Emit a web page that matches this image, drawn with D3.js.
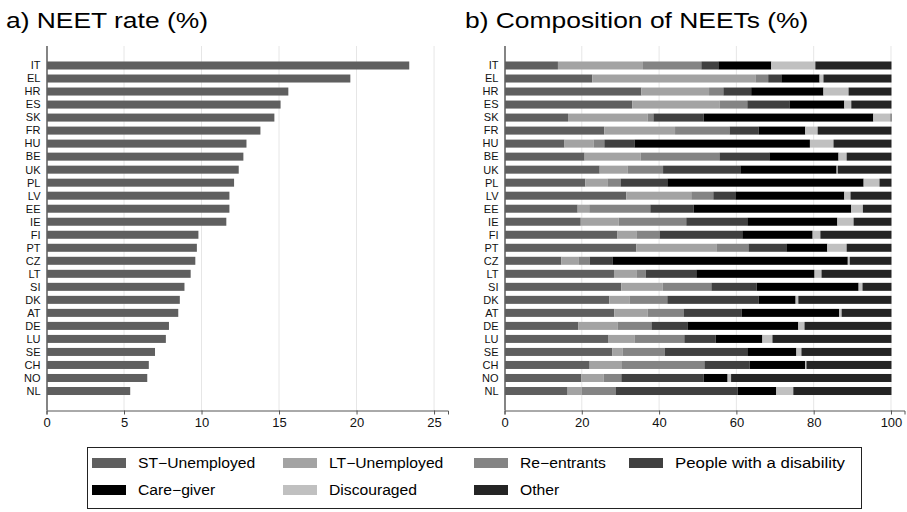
<!DOCTYPE html>
<html>
<head>
<meta charset="utf-8">
<script src="https://cdn.jsdelivr.net/npm/d3@7"></script>
<style>
  body { margin: 0; background: #fff; }
  svg { font-family: "Liberation Sans", Arial, Helvetica, sans-serif; }
</style>
</head>
<body>
<script>
// Countries, ordered as in the chart (highest NEET rate first)
const countries = ["IT", "EL", "HR", "ES", "SK", "FR", "HU", "BE", "UK", "PL", "LV", "EE", "IE",
    "FI", "PT", "CZ", "LT", "SI", "DK", "AT", "DE", "LU", "SE", "CH", "NO", "NL"];

// a) NEET rate (%)
const neetRate = [23.4, 19.6, 15.6, 15.1, 14.7, 13.8, 12.9, 12.7, 12.4, 12.1, 11.8, 11.8, 11.6,
    9.8, 9.7, 9.6, 9.3, 8.9, 8.6, 8.5, 7.9, 7.7, 7.0, 6.6, 6.5, 5.4];

// b) Composition of NEETs (%), one array per category
const stUnemployed = [13.7, 22.6, 35.3, 32.9, 16.3, 25.7, 15.4, 20.6, 24.5, 20.8, 31.4, 18.8, 19.6,
    29.1, 34.0, 14.6, 28.2, 30.1, 27.0, 28.3, 19.0, 26.8, 27.8, 21.9, 19.7, 16.2];
const ltUnemployed = [22.0, 42.2, 17.5, 22.6, 20.6, 18.3, 7.5, 14.5, 7.2, 5.7, 16.8, 3.0, 9.8,
    4.9, 20.7, 4.4, 5.8, 10.7, 5.2, 8.6, 10.1, 6.7, 2.6, 8.2, 5.8, 3.6];
const reEntrants = [15.1, 3.3, 3.7, 7.2, 1.5, 14.1, 2.8, 20.4, 9.2, 3.4, 5.7, 15.8, 17.5,
    6.0, 8.3, 2.9, 2.4, 12.6, 9.8, 9.3, 8.8, 12.9, 10.9, 21.5, 4.6, 8.8];
const disability = [4.4, 3.4, 7.2, 10.9, 13.0, 7.5, 7.8, 12.9, 20.0, 12.1, 5.7, 11.2, 15.8,
    21.4, 9.8, 5.9, 13.1, 11.7, 23.6, 15.0, 9.3, 8.1, 21.4, 11.7, 21.3, 31.6];
const careGiver = [13.7, 9.9, 18.7, 14.2, 43.9, 12.1, 45.4, 17.9, 24.9, 50.8, 28.2, 40.8, 23.3,
    18.2, 10.6, 60.9, 30.6, 26.4, 9.6, 25.3, 28.7, 12.1, 12.7, 14.4, 6.2, 10.0];
const discouraged = [11.4, 1.0, 6.5, 1.8, 4.5, 3.2, 6.1, 2.1, 0.3, 4.1, 1.6, 3.0, 4.2,
    2.0, 5.0, 0.5, 1.8, 1.0, 0.7, 0.6, 1.6, 2.6, 1.3, 0.3, 0.9, 4.4];
const other = [19.7, 17.6, 11.1, 10.4, 0.2, 19.1, 15.0, 11.6, 13.9, 3.1, 10.6, 7.4, 9.8,
    18.4, 11.6, 10.8, 18.1, 7.5, 24.1, 12.9, 22.5, 30.8, 23.3, 22.0, 41.5, 25.4];

const categories = ["ST\u2212Unemployed", "LT\u2212Unemployed", "Re\u2212entrants",
    "People with a disability", "Care\u2212giver", "Discouraged", "Other"];
const series = [stUnemployed, ltUnemployed, reEntrants, disability, careGiver, discouraged, other];
const colors = ["#5f5f5f", "#a3a3a3", "#848484", "#404040", "#000000", "#c0c0c0", "#242424"];

const rateTicks = [0, 5, 10, 15, 20, 25];
const shareTicks = [0, 20, 40, 60, 80, 100];

const W = 907, H = 512;
const plotTop = 46, plotBottom = 410.5;

const svg = d3.select("body").append("svg")
    .attr("width", W).attr("height", H);

// Stretch text horizontally a bit, the titles and legend look wide
function stretch(sel, k) {
    sel.each(function () {
        const len = this.getComputedTextLength();
        d3.select(this).attr("textLength", len * k).attr("lengthAdjust", "spacingAndGlyphs");
    });
}

const y = d3.scaleBand().domain(countries).range([plotTop, plotBottom])
    .paddingInner(0.385).paddingOuter(1.19);

// Draws an axis frame (grid, axes, country labels) and returns the group
function panel(x, ticks) {
    const g = svg.append("g");
    const [x0, x1] = x.range();

    // grid lines
    g.append("g").selectAll("line").data(ticks.slice(1)).join("line")
        .attr("x1", d => x(d)).attr("x2", d => x(d))
        .attr("y1", plotTop).attr("y2", plotBottom)
        .attr("stroke", "#e6e6e6").attr("stroke-width", 1);

    // bottom axis
    const ax = g.append("g").attr("transform", `translate(0,${plotBottom})`)
        .call(d3.axisBottom(x).tickValues(ticks).tickSize(4).tickPadding(3));
    ax.select(".domain").attr("stroke", "#555");
    ax.selectAll(".tick line").attr("stroke", "#555");
    ax.selectAll(".tick text").attr("font-size", 13).attr("fill", "#111")
        .attr("font-family", "Liberation Sans, Arial, sans-serif");

    // left axis (no ticks)
    g.append("line").attr("x1", x0 + 0.5).attr("x2", x0 + 0.5)
        .attr("y1", plotTop).attr("y2", plotBottom)
        .attr("stroke", "#333").attr("stroke-width", 1.2);

    g.append("g").selectAll("text").data(countries).join("text")
        .attr("x", x0 - 6).attr("y", d => y(d) + y.bandwidth() / 2)
        .attr("dy", "0.35em").attr("text-anchor", "end")
        .attr("font-size", 11).attr("fill", "#111")
        .text(d => d);
    return g;
}

// ---- a) NEET rate
const xa = d3.scaleLinear().domain([0, 25.9]).range([46.5, 448]);
const ga = panel(xa, rateTicks);
ga.append("g").selectAll("rect").data(countries).join("rect")
    .attr("x", xa(0) + 0.5)
    .attr("y", d => y(d))
    .attr("width", (d, i) => xa(neetRate[i]) - xa(0) - 0.5)
    .attr("height", y.bandwidth())
    .attr("fill", colors[0]);

// ---- b) Composition
const xb = d3.scaleLinear().domain([0, 103.5]).range([504.5, 904.5]);
const gb = panel(xb, shareTicks);
const rows = countries.map((c, i) => {
    const r = { country: c };
    categories.forEach((k, j) => r[k] = series[j][i]);
    return r;
});
const stacked = d3.stack().keys(categories)(rows);
gb.append("g").selectAll("g").data(stacked).join("g")
    .attr("fill", (d, i) => colors[i])
    .selectAll("rect").data(d => d).join("rect")
    .attr("x", d => xb(d[0]) + 0.5)
    .attr("y", d => y(d.data.country))
    .attr("width", d => Math.max(0, xb(d[1]) - xb(d[0])))
    .attr("height", y.bandwidth());

// titles
svg.append("text").attr("x", 6).attr("y", 28).attr("font-size", 22).attr("fill", "#000")
    .text("a) NEET rate (%)").call(stretch, 1.2);
svg.append("text").attr("x", 465).attr("y", 28).attr("font-size", 22).attr("fill", "#000")
    .text("b) Composition of NEETs (%)").call(stretch, 1.2);

// ---- legend
const lg = svg.append("g");
lg.append("rect").attr("x", 87.5).attr("y", 447.5).attr("width", 774).attr("height", 61)
    .attr("fill", "#fff").attr("stroke", "#222").attr("stroke-width", 1);
const colX = [92, 283, 474, 629];
const item = lg.selectAll("g").data(categories).join("g")
    .attr("transform", (d, i) => `translate(${colX[i % 4]},${i < 4 ? 463 : 490})`);
item.append("rect").attr("x", 0).attr("y", -5).attr("width", 34).attr("height", 10)
    .attr("fill", (d, i) => colors[i]);
item.append("text").attr("x", 46).attr("dy", "0.35em").attr("font-size", 14)
    .attr("fill", "#000").text(d => d)
    .each(function (d, i) { d3.select(this).call(stretch, i === 3 ? 1.2 : 1.12); });
</script>
</body>
</html>
